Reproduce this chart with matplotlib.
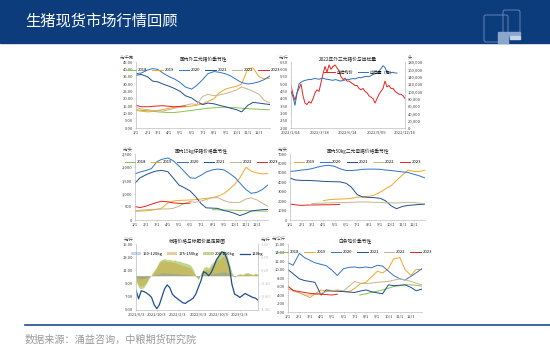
import numpy as np
import matplotlib
matplotlib.use("Agg")
import matplotlib.pyplot as plt
from matplotlib.patches import Rectangle, FancyBboxPatch

plt.rcParams['font.family'] = ['Noto Sans CJK SC', 'DejaVu Sans']

# ---------------- data ----------------
days = [1, 15, 32, 46, 60, 74, 91, 105, 121, 135, 152, 166, 182,
        196, 213, 227, 244, 258, 274, 288, 305, 319, 335, 349, 365]
month_ticks = [1, 32, 60, 91, 121, 152, 182, 213, 244, 274, 305, 335]
month_labels = ['1/1', '2/1', '3/1', '4/1', '5/1', '6/1', '7/1', '8/1',
                '9/1', '10/1', '11/1', '12/1']
years = ['2018', '2019', '2020', '2021', '2022', '2023']
year_colors = {'2018': '#8cc152', '2019': '#f5a623', '2020': '#2e75c6',
               '2021': '#1f4e8c', '2022': '#c8b48c', '2023': '#e8231e'}
nan = np.nan

# 国内外三元猪价 (元/千克)
hog = {
    '2018': [12.5, 12.0, 11.8, 11.5, 11.0, 10.8, 10.5, 10.6, 11.0, 11.5, 12.0, 12.5, 13.0,
             13.5, 13.8, 14.0, 14.2, 14.0, 13.8, 13.5, 13.2, 13.0, 12.8, 12.6, 12.4],
    '2019': [12.0, 11.5, 11.0, 11.2, 12.0, 12.5, 13.5, 14.0, 14.3, 14.5, 15.0, 15.5, 16.5,
             18.0, 20.0, 24.0, 26.5, 27.5, 28.5, 30.0, 40.5, 41.0, 35.0, 33.5, 34.0],
    '2020': [37.0, 37.5, 39.5, 40.5, 40.0, 37.5, 35.0, 33.5, 31.0, 28.0, 26.5, 29.0, 33.0,
             37.0, 38.5, 38.0, 37.0, 35.5, 33.0, 31.0, 30.0, 30.5, 31.5, 33.0, 35.5],
    '2021': [36.0, 36.5, 35.0, 32.0, 31.5, 30.0, 28.5, 27.0, 25.0, 22.0, 20.5, 18.0, 16.0,
             17.0, 16.5, 15.5, 14.5, 13.5, 12.5, 11.0, 15.5, 17.5, 17.0, 16.5, 16.0],
    '2022': [14.0, 13.0, 12.5, 12.0, 12.0, 11.5, 12.5, 13.5, 14.5, 15.5, 16.5, 16.0, 21.5,
             23.0, 22.0, 22.5, 23.5, 24.5, 26.0, 28.0, 26.5, 25.0, 23.0, 19.0, 17.0],
    '2023': [15.5, 14.5, 14.5, 14.8, 15.0, 15.2, 14.8, 14.5, 14.8, 15.0],
}

# 外三元猪价与出栏量
wk_price = [4.9, 4.3, 3.9, 4.4, 4.7, 5.0, 4.2, 3.7, 3.6, 3.8, 3.7, 4.0, 4.4, 4.6, 4.5,
            5.1, 5.7, 6.2, 5.8, 6.3, 6.0, 6.2, 6.3, 6.1, 5.9, 5.5, 5.3, 5.4, 5.2, 5.2,
            5.1, 5.0, 4.9, 4.9, 4.7, 4.6, 4.7, 4.5, 4.4, 4.2, 4.1, 4.0, 3.7, 4.0, 4.3,
            4.5, 4.7, 5.2, 4.8, 4.9, 4.7, 4.7, 4.5, 4.4, 4.3, 4.3, 4.2, 4.0]
wk_volume = [100, 85, 62, 95, 120, 125, 128, 130, 131, 133, 132, 134, 135, 134, 133,
             135, 136, 134, 133, 132, 131, 130, 132, 131, 129, 128, 130, 131, 133, 132,
             134, 135, 134, 136, 138, 137, 139, 140, 141, 140, 143, 146, 148, 150, 155,
             162, 170, 165, 152, 150, 151, 152, 150, 150]
wk_volume = [v * 1000 for v in wk_volume]
wk_labels = ['2022/1/04', '2022/3/18', '2022/6/14', '2022/9/09', '2022/12/16']

# 15kg仔猪 (元/头)
piglet = {
    '2018': [nan] * 14 + [390, 385, 380, 375, 370, 360, 355, 350, 345, 340, 335],
    '2019': [330, 340, 350, 370, 400, 450, 650, 720, 740, 750, 760, 770, 800,
             820, 850, 900, 1000, 1150, 1350, 1600, 2000, 1850, 1780, 1750, 1760],
    '2020': [1750, 1820, 1880, 1950, 2200, 2300, 2350, 2250, 2050, 1850, 1600, 1580, 1700,
             1820, 1900, 1930, 1900, 1780, 1620, 1400, 1150, 1010, 1050, 1150, 1330],
    '2021': [1400, 1600, 1720, 1800, 1860, 1880, 1830, 1600, 1330, 1230, 1100, 900, 620,
             460, 450, 440, 360, 320, 250, 170, 250, 340, 370, 390, 400],
    '2022': [350, 370, 390, 400, 410, 415, 420, 440, 520, 620, 700, 670, 720,
             780, 840, 850, 740, 680, 660, 670, 800, 840, 760, 640, 520],
    '2023': [510, 470, 530, 600, 660, 710, 690, 650, 630, 620, 640],
}

# 50kg二元母猪 (元/头)
sow = {
    '2019': [nan] * 6 + [2050, 2150, 2200, 2220, 2250, 2300, 2420,
                         2470, 2520, 2620, 2950, 3300, 3650, 4200, 4800, 5300, 5150, 5150, 5280],
    '2020': [5150, 5200, 5300, 5350, 5450, 5600, 5750, 5800, 5700, 5450, 5250, 5250, 5300,
             5380, 5400, 5400, 5380, 5300, 5250, 5180, 5100, 5050, 4850, 4700, 4450],
    '2021': [4450, 4250, 4200, 4200, 4180, 4150, 4100, 4080, 4060, 4050, 3900, 3500, 2700,
             2450, 2400, 2380, 2300, 2050, 1500, 1200, 1450, 1550, 1600, 1650, 1680],
    '2022': [nan] * 4 + [1750, 1780, 1800, 1820, 1830, 1850, 1850, 1880, 1900,
                         1920, 1900, 1880, 1860, 1830, 1820, 1800, 1850, 1880, 1850, 1800, 1720],
    '2023': [1700, 1620, 1550, 1580, 1600, 1600, 1620, 1620, 1630, 1650],
}

# 标猪价格与标肥价差
std_price = [8.0, 6.7, 7.9, 7.8, 7.6, 7.3, 6.9, 5.8, 5.2, 5.8, 7.0, 8.2, 8.8, 8.4, 7.4, 7.0,
             6.7, 6.4, 6.1, 6.0, 6.3, 6.5, 6.8, 7.4, 8.4, 9.4, 10.8, 10.6, 10.2, 10.7, 11.6, 12.6,
             13.2, 13.8, 13.7, 12.8, 11.4, 8.8, 7.4, 7.2, 6.9, 7.2, 7.5, 7.3, 7.1, 6.9, 6.8, 6.5]
spread_200 = [-0.2, -0.45, -0.5, -0.45, -0.3, -0.1, 0.05, 0.2, 0.35, 0.55, 0.62, 0.65, 0.6,
              0.62, 0.58, 0.6, 0.55, 0.55, 0.5, 0.48, 0.45, 0.4, 0.25, 0.0, -0.15, 0.1, 0.3,
              0.35, 0.3, 0.45, 0.55, 0.7, 0.8, 0.9, 0.95, 0.8, 0.45, 0.1, -0.05, 0.05, 0.08,
              0.05, 0.1, 0.12, 0.08, 0.05, 0.1, 0.05]
spread_175 = [-0.15, -0.35, -0.4, -0.35, -0.25, -0.08, 0.03, 0.15, 0.3, 0.5, 0.55, 0.58, 0.52,
              0.55, 0.5, 0.5, 0.45, 0.42, 0.38, 0.35, 0.32, 0.28, 0.15, -0.02, -0.12, 0.05, 0.2,
              0.25, 0.22, 0.35, 0.45, 0.55, 0.62, 0.7, 0.75, 0.6, 0.3, 0.05, -0.05, 0.02, 0.05,
              0.03, 0.06, 0.08, 0.05, 0.03, 0.06, 0.03]
spread_150 = [-0.05, -0.1, -0.12, -0.1, -0.08, -0.03, 0.0, 0.03, 0.05, 0.08, 0.1, 0.1, 0.08,
              0.1, 0.08, 0.08, 0.07, 0.06, 0.05, 0.05, 0.04, 0.03, 0.02, -0.03, -0.05, 0.0, 0.03,
              0.05, 0.04, 0.06, 0.08, 0.1, 0.12, 0.14, 0.15, 0.1, 0.05, -0.02, -0.04, -0.02, 0.0,
              -0.01, 0.01, 0.02, 0.0, -0.01, 0.01, 0.0]
spread_ticks = [0, 8, 16, 24, 32, 40]
spread_labels = ['2021/6/3', '2021/10/3', '2022/2/3', '2022/6/3', '2022/10/3', '2023/2/3']

# 白条鸡价
chicken = {
    '2018': [nan] * 13 + [4.0, 4.3, 4.6, 4.9, 5.2, 5.6, 6.0, 6.2, 6.4, 6.4, 6.3, 6.1],
    '2019': [6.2, 5.0, 4.5, 4.0, 3.4, 4.2, 5.2, 4.9, 4.8, 5.0, 4.9, 4.8, 5.5,
             6.6, 7.0, 8.2, 9.6, 9.2, 10.2, 12.5, 12.8, 10.0, 8.6, 10.0, 10.0],
    '2020': [11.6, 11.0, 13.8, 12.8, 12.2, 11.6, 11.2, 10.9, 9.8, 8.6, 10.2, 10.5, 10.6,
             10.4, 10.6, 10.4, 11.0, 10.8, 9.6, 8.6, 7.8, 7.5, 8.4, 9.2, 10.2],
    '2021': [10.0, 9.0, 7.8, 7.4, 7.2, 7.0, 4.0, 5.2, 5.0, 4.9, 4.8, 4.7, 4.6,
             4.9, 5.2, 4.8, 4.5, 4.3, 6.4, 6.2, 6.3, 6.4, 5.8, 5.0, 5.4],
    '2022': [5.4, 5.0, 4.5, 4.0, 4.0, 4.1, 4.4, 4.8, 5.0, 5.2, 5.0, 6.0, 7.2,
             6.8, 6.7, 6.8, 7.0, 7.1, 7.2, 7.5, 7.8, 7.6, 7.2, 6.8, 6.4],
    '2023': [6.0, 5.1, 4.8, 4.6, 4.4, 4.3, 4.2, 4.1, 4.0, 4.2],
}

FS = 3.0
GRAY = '#bfbfbf'
TXT = '#404040'


def style(ax, title, unit, ylim, yticks, fmt):
    ax.set_facecolor('none')
    ax.set_ylim(*ylim)
    ax.set_yticks(yticks)
    ax.set_yticklabels([fmt.format(t) for t in yticks])
    for s in ['top', 'right']:
        ax.spines[s].set_visible(False)
    for s in ['left', 'bottom']:
        ax.spines[s].set_color(GRAY)
        ax.spines[s].set_linewidth(0.5)
    ax.tick_params(labelsize=FS, length=1, width=0.4, colors=GRAY, labelcolor=TXT, pad=1)
    ax.text(0.5, 1.0, title, transform=ax.transAxes, ha='center', va='bottom',
            fontsize=3.4, color='#202020')
    ax.text(-0.02, 1.04, unit, transform=ax.transAxes, ha='right', va='bottom',
            fontsize=FS, color=TXT)


def seasonal(ax, data, order):
    for y in order:
        v = data[y]
        ax.plot(days[:len(v)], v, color=year_colors[y], lw=0.7, label=y)
    ax.set_xlim(1, 365)
    ax.set_xticks(month_ticks)
    ax.set_xticklabels(month_labels)
    ax.legend(loc='upper center', bbox_to_anchor=(0.5, 0.93), ncol=len(order),
              fontsize=FS, frameon=False, handlelength=2.5, columnspacing=1.2,
              handletextpad=0.4, borderaxespad=0)


fig = plt.figure(figsize=(5.5, 3.54), dpi=100)

# slide background
bg = fig.add_axes([0, 0, 1, 1])
bg.set_xlim(0, 550)
bg.set_ylim(354, 0)
bg.axis('off')
bg.add_patch(Rectangle((0, 0), 550, 43, color='#0c3c7c'))
bg.text(25, 21, '生猪现货市场行情回顾', color='white', fontsize=11, va='center', ha='left')
bg.add_patch(FancyBboxPatch((484, 15), 24, 27, boxstyle='round,pad=0,rounding_size=2',
                            fill=False, ec='#6f8fbf', lw=0.6))
bg.add_patch(FancyBboxPatch((503, 10), 17, 27, boxstyle='round,pad=0,rounding_size=2',
                            fill=False, ec='#6f8fbf', lw=0.6))
bg.add_patch(Rectangle((498, 32), 10, 11, color='#8ba6cb'))
bg.add_patch(Rectangle((508, 32), 12, 3, color='#8ba6cb'))
bg.add_patch(Rectangle((510, 36), 10, 3, color='#c9d5e6'))
bg.plot([25, 550], [325, 325], color='#1f4e8c', lw=1.2)
bg.text(25, 340, '数据来源：涌益咨询，中粮期货研究院', color='#999999', fontsize=7.3,
        va='center', ha='left')

# chart 1
ax1 = fig.add_axes([0.2473, 0.6384, 0.2436, 0.1864])
style(ax1, '国内外三元猪价季节性', '元/千克', (0, 45), list(range(0, 46, 5)), '{:.2f}')
seasonal(ax1, hog, years)

# chart 2
ax2 = fig.add_axes([0.5291, 0.6384, 0.2073, 0.1864])
style(ax2, '2022年外三元猪价与出栏量', '元/斤', (2.0, 6.5), list(np.arange(2.0, 6.51, 0.5)), '{:.2f}')
ax2b = ax2.twinx()
ax2.plot(range(len(wk_price)), wk_price, color='#e8231e', lw=0.7, label='出栏均价')
ax2b.plot(range(len(wk_volume)), wk_volume, color='#2e6fb8', lw=0.7, label='出栏量（右）')
ax2b.set_ylim(0, 180000)
ax2b.set_yticks(range(0, 180001, 20000))
ax2b.set_yticklabels(['{:,}'.format(t) for t in range(0, 180001, 20000)])
for s in ['top', 'left', 'bottom']:
    ax2b.spines[s].set_visible(False)
ax2b.spines['right'].set_color(GRAY)
ax2b.spines['right'].set_linewidth(0.5)
ax2b.tick_params(labelsize=FS, length=1, width=0.4, colors=GRAY, labelcolor=TXT, pad=1)
ax2b.text(1.02, 1.04, '头', transform=ax2b.transAxes, ha='left', va='bottom', fontsize=FS, color=TXT)
ax2.set_xlim(0, len(wk_price) - 1)
ax2.set_xticks(np.linspace(0, len(wk_price) - 1, len(wk_labels)))
ax2.set_xticklabels(wk_labels)
h1, l1 = ax2.get_legend_handles_labels()
h2, l2 = ax2b.get_legend_handles_labels()
ax2b.legend(h1 + h2, l1 + l2, loc='upper center', bbox_to_anchor=(0.6, 0.9), ncol=2,
            fontsize=FS, frameon=False, handlelength=2.5, columnspacing=1.2,
            handletextpad=0.4, borderaxespad=0)

# chart 3
ax3 = fig.add_axes([0.2455, 0.3785, 0.2418, 0.1864])
style(ax3, '国内15kg仔猪价格季节性', '元/头', (0, 2500), list(range(0, 2501, 500)), '{:,}')
seasonal(ax3, piglet, years)

# chart 4
ax4 = fig.add_axes([0.5273, 0.3785, 0.2455, 0.1864])
style(ax4, '国内50kg二元母猪价格季节性', '元/头', (0, 7000), list(range(0, 7001, 1000)), '{}')
seasonal(ax4, sow, years[1:])

# chart 5
ax5 = fig.add_axes([0.2473, 0.1243, 0.2218, 0.1864])
style(ax5, '标猪价格与标肥价差走势图', '元/斤', (5, 15), [5, 7, 9, 11, 13, 15], '{:.2f}')
ax5b = ax5.twinx()
xs = np.arange(len(std_price))
ax5b.fill_between(xs, 0, spread_200, color='#b5cf7a', alpha=0.85, lw=0, label='200-150kg')
ax5b.fill_between(xs, 0, spread_175, color='#c9a23a', alpha=0.5, lw=0, label='175-150kg')
ax5b.fill_between(xs, 0, spread_150, color='#5b8fd0', alpha=0.35, lw=0, label='150-120kg')
ax5.plot(xs, std_price, color='#1f4e8c', lw=0.9, label='120kg')
ax5.set_zorder(ax5b.get_zorder() + 1)
ax5.patch.set_visible(False)
rt = [-1.3, -0.8, -0.3, 0.2, 0.7, 1.2]
ax5b.set_ylim(-1.3, 1.2)
ax5b.set_yticks(rt)
ax5b.set_yticklabels(['{:.2f}'.format(t) for t in rt])
for lab, t in zip(ax5b.get_yticklabels(), rt):
    lab.set_color('#e8231e' if t < 0 else TXT)
for s in ['top', 'left', 'bottom']:
    ax5b.spines[s].set_visible(False)
ax5b.spines['right'].set_color(GRAY)
ax5b.spines['right'].set_linewidth(0.5)
ax5b.tick_params(labelsize=FS, length=1, width=0.4, colors=GRAY, pad=1)
ax5b.text(1.02, 1.04, '元/斤', transform=ax5b.transAxes, ha='left', va='bottom', fontsize=FS, color=TXT)
ax5.set_xlim(0, len(std_price) - 1)
ax5.set_xticks(spread_ticks)
ax5.set_xticklabels(spread_labels)
hb, lb = ax5b.get_legend_handles_labels()
ha, la = ax5.get_legend_handles_labels()
ax5.legend(hb[::-1] + ha, lb[::-1] + la, loc='upper center', bbox_to_anchor=(0.5, 0.9), ncol=4,
           fontsize=FS, frameon=False, handlelength=2.5, columnspacing=1.0,
           handletextpad=0.4, borderaxespad=0)

# chart 6
ax6 = fig.add_axes([0.5236, 0.1186, 0.2436, 0.1921])
style(ax6, '白条鸡价季节性', '元/公斤', (0, 16), list(range(0, 17, 2)), '{:.2f}')
seasonal(ax6, chicken, years)

fig.savefig('out.png', dpi=100)
